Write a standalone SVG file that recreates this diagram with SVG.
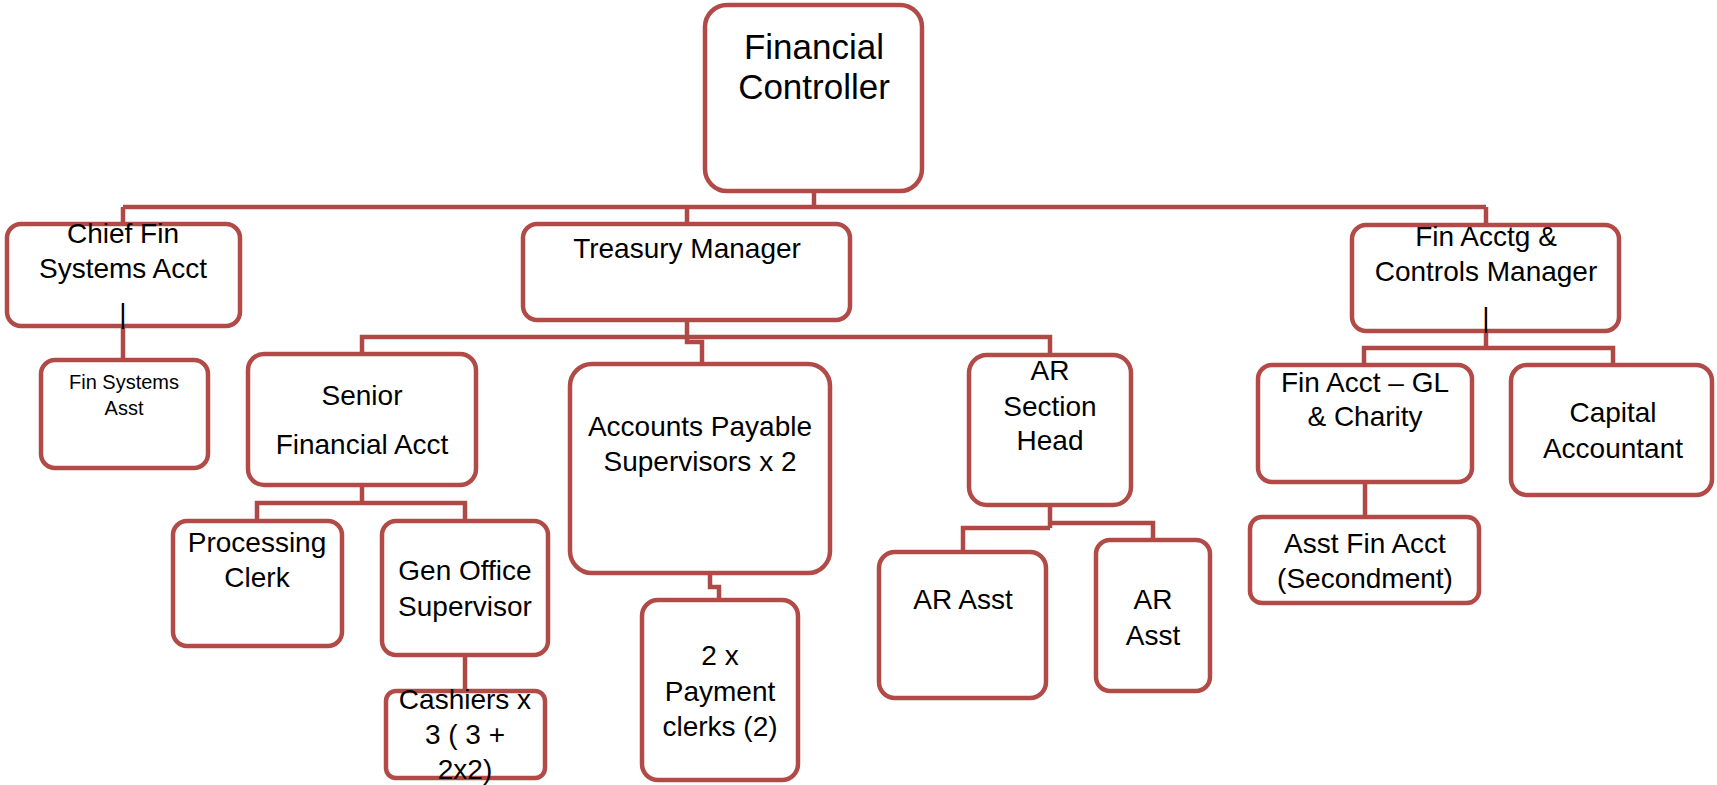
<svg xmlns="http://www.w3.org/2000/svg" width="1717" height="785" viewBox="0 0 1717 785">
<style>
.box{fill:#fff;stroke:#B24B48;stroke-width:4.5}
.c{fill:none;stroke:#B04846;stroke-width:4.5;stroke-linejoin:miter}
text{font-family:"Liberation Sans",Arial,sans-serif;fill:#000;text-anchor:middle}
.t{font-size:28px}
.s{font-size:20px}
.h{font-size:35px}
</style>
<rect width="1717" height="785" fill="#fff"/>
<g id="connectors">
<path class="c" d="M814 192V207"/>
<path class="c" d="M123 207H1486" stroke="#A44242"/>
<path class="c" d="M123 207V224M687 207V224M1486 207V225"/>
<path class="c" d="M123 326V360"/>
<path class="c" d="M687 320V342H702V364"/>
<path class="c" d="M362 354V337H1050V355"/>
<path class="c" d="M362 485V503M257 521V503H465V521"/>
<path class="c" d="M465 655V691"/>
<path class="c" d="M710 573V587H719V600"/>
<path class="c" d="M1050 505V528M1050 523H1153V540M1050 528H963V552"/>
<path class="c" d="M1486 331V348M1364 365V348H1613V365"/>
<path class="c" d="M1365 482V517"/>
</g>
<g id="financial-controller">
<rect class="box" x="705" y="5" width="217" height="186" rx="22"/>
<text class="h" x="814" y="59">Financial</text>
<text class="h" x="814" y="99">Controller</text>
</g>
<g id="chief-fin-systems-acct">
<rect class="box" x="7" y="224" width="233" height="102" rx="14"/>
<text class="t" x="123" y="243">Chief Fin</text>
<text class="t" x="123" y="278">Systems Acct</text>
<text class="t" x="123" y="323">|</text>
</g>
<g id="treasury-manager">
<rect class="box" x="523" y="224" width="327" height="96" rx="14"/>
<text class="t" x="687" y="258">Treasury Manager</text>
</g>
<g id="fin-acctg-controls-manager">
<rect class="box" x="1352" y="225" width="267" height="106" rx="14"/>
<text class="t" x="1486" y="246">Fin Acctg &amp;</text>
<text class="t" x="1486" y="281">Controls Manager</text>
<text class="t" x="1486" y="327">|</text>
</g>
<g id="fin-systems-asst">
<rect class="box" x="41" y="360" width="167" height="108" rx="14"/>
<text class="s" x="124" y="389">Fin Systems</text>
<text class="s" x="124" y="415">Asst</text>
</g>
<g id="senior-financial-acct">
<rect class="box" x="248" y="354" width="228" height="131" rx="16"/>
<text class="t" x="362" y="405">Senior</text>
<text class="t" x="362" y="454">Financial Acct</text>
</g>
<g id="accounts-payable-supervisors">
<rect class="box" x="570" y="364" width="260" height="209" rx="22"/>
<text class="t" x="700" y="436">Accounts Payable</text>
<text class="t" x="700" y="471">Supervisors x 2</text>
</g>
<g id="ar-section-head">
<rect class="box" x="969" y="355" width="162" height="150" rx="18"/>
<text class="t" x="1050" y="380">AR</text>
<text class="t" x="1050" y="416">Section</text>
<text class="t" x="1050" y="450">Head</text>
</g>
<g id="fin-acct-gl-charity">
<rect class="box" x="1258" y="365" width="214" height="117" rx="14"/>
<text class="t" x="1365" y="392">Fin Acct – GL</text>
<text class="t" x="1365" y="426">&amp; Charity</text>
</g>
<g id="capital-accountant">
<rect class="box" x="1511" y="365" width="201" height="130" rx="16"/>
<text class="t" x="1613" y="422">Capital</text>
<text class="t" x="1613" y="458">Accountant</text>
</g>
<g id="processing-clerk">
<rect class="box" x="173" y="521" width="169" height="125" rx="14"/>
<text class="t" x="257" y="552">Processing</text>
<text class="t" x="257" y="587">Clerk</text>
</g>
<g id="gen-office-supervisor">
<rect class="box" x="382" y="521" width="166" height="134" rx="14"/>
<text class="t" x="465" y="580">Gen Office</text>
<text class="t" x="465" y="616">Supervisor</text>
</g>
<g id="cashiers">
<rect class="box" x="386" y="691" width="159" height="87" rx="10"/>
<text class="t" x="465" y="709">Cashiers x</text>
<text class="t" x="465" y="744">3 ( 3 +</text>
<text class="t" x="465" y="779">2x2)</text>
</g>
<g id="payment-clerks">
<rect class="box" x="642" y="600" width="156" height="180" rx="16"/>
<text class="t" x="720" y="665">2 x</text>
<text class="t" x="720" y="701">Payment</text>
<text class="t" x="720" y="736">clerks (2)</text>
</g>
<g id="ar-asst-1">
<rect class="box" x="879" y="552" width="167" height="146" rx="16"/>
<text class="t" x="963" y="609">AR Asst</text>
</g>
<g id="ar-asst-2">
<rect class="box" x="1096" y="540" width="114" height="151" rx="14"/>
<text class="t" x="1153" y="609">AR</text>
<text class="t" x="1153" y="645">Asst</text>
</g>
<g id="asst-fin-acct">
<rect class="box" x="1250" y="517" width="229" height="86" rx="12"/>
<text class="t" x="1365" y="553">Asst Fin Acct</text>
<text class="t" x="1365" y="588">(Secondment)</text>
</g>
</svg>
